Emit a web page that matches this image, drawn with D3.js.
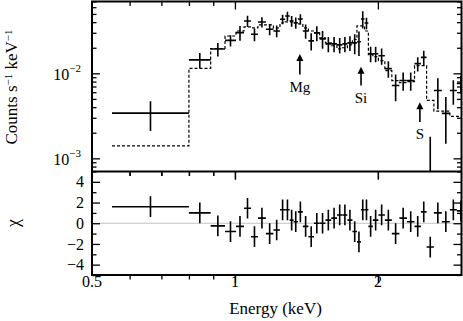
<!DOCTYPE html>
<html>
<head>
<meta charset="utf-8">
<script src="https://cdn.jsdelivr.net/npm/d3@7"></script>
<style>
  body { margin: 0; background: #fff; }
  svg { display: block; }
  text { font-family: "Liberation Serif", "Times New Roman", serif; fill: #000; }
</style>
</head>
<body>
<svg id="chart" width="463" height="321" font-family="Liberation Serif, serif"></svg>
<script>
// bin edges (keV), 43 edges -> 42 bins
var edges = [0.551, 0.800, 0.889, 0.953, 1.005, 1.045, 1.081, 1.118, 1.162, 1.205,
  1.244, 1.276, 1.304, 1.329, 1.357, 1.390, 1.428, 1.467, 1.508, 1.551,
  1.595, 1.640, 1.684, 1.725, 1.768, 1.807, 1.842, 1.875, 1.910, 1.952,
  2.005, 2.069, 2.140, 2.220, 2.302, 2.389, 2.464, 2.533, 2.624, 2.727,
  2.835, 2.933, 3.05];

// counts s^-1 keV^-1
var rate = [0.0034, 0.0144, 0.0193, 0.0244, 0.0301, 0.0413, 0.0288, 0.0402, 0.0330, 0.0315,
  0.0433, 0.0472, 0.0413, 0.0394, 0.0436, 0.0315, 0.0241, 0.0299, 0.0254, 0.0222,
  0.0222, 0.0216, 0.0222, 0.0228, 0.0228, 0.0235, 0.0436, 0.0391, 0.0170, 0.0170,
  0.0161, 0.01135, 0.00718, 0.00822, 0.00822, 0.0130, 0.0154, 0.0004, 0.00628, 0.00338,
  0.00628, 0.00758];

var rateErr = [0.0013, 0.0029, 0.0035, 0.0037, 0.0060, 0.0062, 0.0050, 0.0055, 0.0050, 0.0050,
  0.0055, 0.0060, 0.0060, 0.0060, 0.0060, 0.0060, 0.0055, 0.0060, 0.0060, 0.0045,
  0.0045, 0.0045, 0.0045, 0.0045, 0.0060, 0.0075, 0.0100, 0.0060, 0.0035, 0.0035,
  0.0035, 0.0025, 0.0025, 0.0020, 0.0020, 0.0025, 0.0030, 0.0014, 0.0025, 0.0019,
  0.0020, 0.0018];

var model = [0.00140, 0.01144, 0.0196, 0.0275, 0.0315, 0.0352, 0.0342, 0.0371, 0.0371, 0.0342,
  0.0391, 0.0402, 0.0402, 0.0391, 0.0381, 0.0342, 0.0315, 0.0299, 0.0261, 0.0228,
  0.0211, 0.0194, 0.0200, 0.0216, 0.0250, 0.0361, 0.0361, 0.0315, 0.0166, 0.0157,
  0.0141, 0.01075, 0.00822, 0.00778, 0.0080, 0.0123, 0.0123, 0.0048, 0.0036, 0.0036,
  0.00312, 0.00312];

var chi = [1.6, 1.0, -0.25, -0.8, -0.3, 1.45, -1.3, 0.5, -1.0, -0.65,
  1.3, 1.3, 0.3, 0.15, 1.1, -0.3, -1.3, 0, 0, 0.3,
  0.5, 0.8, 0.8, 0.3, -0.8, -1.8, 1.3, 1.3, -0.3, 0.3,
  0.8, 0.3, -1.0, 0.5, 0.15, -0.3, 1.1, -2.3, 1.0, 0.15,
  1.3, 1.2];

var lineNames = ['Mg', 'Si', 'S'];
var lineEnergy = [1.37, 1.843, 2.452];
var arrowTop = [0.0169, 0.01197, 0.00458];
var arrowBottom = [0.00966, 0.00718, 0.00268];

var xMajor = [0.5, 1, 2];
var xMinor = [0.6, 0.7, 0.8, 0.9];
var yMajor = [1e-3, 1e-2];
var yMinor = [8e-4, 9e-4, 2e-3, 3e-3, 4e-3, 5e-3, 6e-3, 7e-3, 8e-3, 9e-3,
  2e-2, 3e-2, 4e-2, 5e-2, 6e-2, 7e-2];
var chiMajor = [-4, -2, 0, 2, 4];
var chiMinor = [-5, -3, -1, 1, 3, 5];

var bins = rate.map(function(r, i) {
  return { lo: edges[i], hi: edges[i + 1], mid: Math.sqrt(edges[i] * edges[i + 1]),
    rate: r, err: rateErr[i], model: model[i], chi: chi[i] };
});

var L = 92, R = 461.5, T = 1.5, M = 171.5, B = 275;
var svg = d3.select('#chart');

var x = d3.scaleLog().domain([0.5, 3]).range([L, R]);
var y = d3.scaleLog().domain([7e-4, 0.07]).range([M, T]);
var yc = d3.scaleLinear().domain([-5, 5]).range([B, M]);

svg.append('clipPath').attr('id', 'clipTop')
  .append('rect').attr('x', L).attr('y', T).attr('width', R - L).attr('height', M - T);
svg.append('clipPath').attr('id', 'clipBot')
  .append('rect').attr('x', L).attr('y', M).attr('width', R - L).attr('height', B - M);

function clampY(v) { return y(Math.max(v, 1e-5)); }

// ---- top panel ----
var topPanel = svg.append('g').attr('clip-path', 'url(#clipTop)');

var modelPts = bins.map(function(d) { return [d.lo, d.model]; });
modelPts.push([edges[edges.length - 1], model[model.length - 1]]);
topPanel.append('path')
  .attr('d', d3.line().curve(d3.curveStepAfter)
    .x(function(d) { return x(d[0]); })
    .y(function(d) { return y(d[1]); })(modelPts))
  .attr('fill', 'none')
  .attr('stroke', '#000')
  .attr('stroke-width', 1.2)
  .attr('stroke-dasharray', '3,2');

var pts = topPanel.selectAll('g.pt').data(bins).enter().append('g').attr('class', 'pt');
pts.append('line')
  .attr('x1', function(d) { return x(d.lo); })
  .attr('x2', function(d) { return x(d.hi); })
  .attr('y1', function(d) { return clampY(d.rate); })
  .attr('y2', function(d) { return clampY(d.rate); });
pts.append('line')
  .attr('x1', function(d) { return x(d.mid); })
  .attr('x2', function(d) { return x(d.mid); })
  .attr('y1', function(d) { return clampY(d.rate - d.err); })
  .attr('y2', function(d) { return clampY(d.rate + d.err); });
pts.selectAll('line').attr('stroke', '#000').attr('stroke-width', 1.6);

// line arrows
var arrows = svg.append('g');
lineNames.forEach(function(name, i) {
  var ax = x(lineEnergy[i]), y0 = y(arrowBottom[i]), y1 = y(arrowTop[i]);
  arrows.append('line').attr('x1', ax).attr('x2', ax).attr('y1', y0).attr('y2', y1 + 3)
    .attr('stroke', '#000').attr('stroke-width', 1.6);
  arrows.append('path')
    .attr('d', 'M' + (ax - 3.5) + ',' + (y1 + 7) + 'L' + ax + ',' + y1 + 'L' + (ax + 3.5) + ',' + (y1 + 7) + 'Z')
    .attr('fill', '#000');
  arrows.append('text').attr('x', ax).attr('y', y0 + 17)
    .attr('text-anchor', 'middle').attr('font-size', 15).text(name);
});

// ---- bottom panel ----
svg.append('line').attr('x1', L).attr('x2', R).attr('y1', yc(0)).attr('y2', yc(0))
  .attr('stroke', '#b9c6c2').attr('stroke-width', 1.2);

var bot = svg.append('g').attr('clip-path', 'url(#clipBot)');
var res = bot.selectAll('g.res').data(bins).enter().append('g').attr('class', 'res');
res.append('line')
  .attr('x1', function(d) { return x(d.lo); })
  .attr('x2', function(d) { return x(d.hi); })
  .attr('y1', function(d) { return yc(d.chi); })
  .attr('y2', function(d) { return yc(d.chi); });
res.append('line')
  .attr('x1', function(d) { return x(d.mid); })
  .attr('x2', function(d) { return x(d.mid); })
  .attr('y1', function(d) { return yc(d.chi - 1); })
  .attr('y2', function(d) { return yc(d.chi + 1); });
res.selectAll('line').attr('stroke', '#000').attr('stroke-width', 1.6);

// ---- axes (inward ticks) ----
function tickAxis(axis, tx, ty, vals, size) {
  var g = svg.append('g').attr('transform', 'translate(' + tx + ',' + ty + ')')
    .call(axis.tickValues(vals).tickSize(size).tickFormat(''));
  g.select('.domain').remove();
  g.selectAll('line').attr('stroke', '#000').attr('stroke-width', 1.3);
  return g;
}

[[T, d3.axisTop], [M, d3.axisBottom], [M, d3.axisTop], [B, d3.axisBottom]].forEach(function(a) {
  var dir = a[1] === d3.axisTop ? -1 : 1;
  tickAxis(a[1](x), 0, a[0], xMajor.slice(1), 8 * dir);
  tickAxis(a[1](x), 0, a[0], xMinor, 4.5 * dir);
});
tickAxis(d3.axisLeft(y), L, 0, yMajor, -8);
tickAxis(d3.axisLeft(y), L, 0, yMinor, -4.5);
tickAxis(d3.axisRight(y), R, 0, yMajor, -8);
tickAxis(d3.axisRight(y), R, 0, yMinor, -4.5);
tickAxis(d3.axisLeft(yc), L, 0, chiMajor, -8);
tickAxis(d3.axisLeft(yc), L, 0, chiMinor, -4.5);
tickAxis(d3.axisRight(yc), R, 0, chiMajor, -8);
tickAxis(d3.axisRight(yc), R, 0, chiMinor, -4.5);

// frames
svg.append('rect').attr('x', L).attr('y', T).attr('width', R - L).attr('height', B - T)
  .attr('fill', 'none').attr('stroke', '#000').attr('stroke-width', 2);
svg.append('line').attr('x1', L).attr('x2', R).attr('y1', M).attr('y2', M)
  .attr('stroke', '#000').attr('stroke-width', 2);

// tick labels
var labels = svg.append('g').attr('font-size', 16);
xMajor.forEach(function(v) {
  labels.append('text').attr('x', x(v)).attr('y', B + 12)
    .attr('text-anchor', 'middle').text(v);
});
yMajor.forEach(function(v) {
  var t = labels.append('text').attr('x', L - 11).attr('y', y(v) + 7)
    .attr('text-anchor', 'end');
  t.append('tspan').text('10');
  t.append('tspan').attr('font-size', 11).attr('dy', -8).text('\u2212' + Math.round(-Math.log10(v)));
});
chiMajor.forEach(function(v) {
  labels.append('text').attr('x', L - 8).attr('y', yc(v)).attr('dy', '0.35em')
    .attr('text-anchor', 'end').text(v < 0 ? '\u2212' + (-v) : v);
});

// axis titles
svg.append('text').attr('x', 275.5).attr('y', 314).attr('text-anchor', 'middle')
  .attr('font-size', 17).text('Energy (keV)');

var yt = svg.append('text').attr('transform', 'translate(17,87) rotate(-90)')
  .attr('text-anchor', 'middle').attr('font-size', 17);
yt.append('tspan').text('Counts s');
yt.append('tspan').attr('font-size', 11).attr('dy', -5).text('\u22121');
yt.append('tspan').attr('dy', 5).text(' keV');
yt.append('tspan').attr('font-size', 11).attr('dy', -5).text('\u22121');

svg.append('text').attr('transform', 'translate(19,223) rotate(-90)')
  .attr('text-anchor', 'middle').attr('font-size', 18).text('\u03c7');
</script>
</body>
</html>
